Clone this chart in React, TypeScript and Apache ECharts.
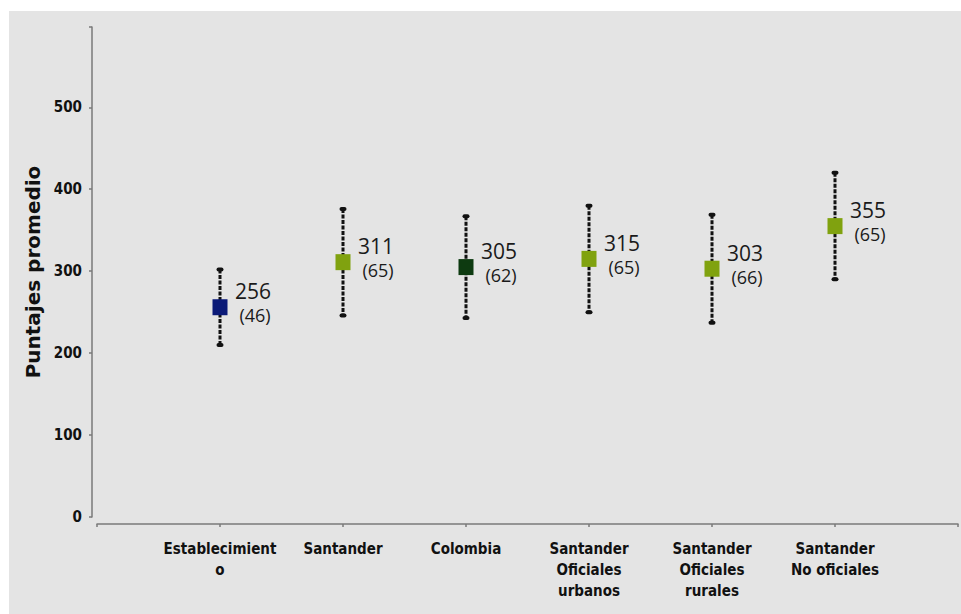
import React, { useEffect, useRef } from "react";
import * as echarts from "echarts";

const categories = [
  "Establecimient\no",
  "Santander",
  "Colombia",
  "Santander\nOficiales\nurbanos",
  "Santander\nOficiales\nrurales",
  "Santander\nNo oficiales",
];
const means = [256, 311, 305, 315, 303, 355];
const stdDevs = [46, 65, 62, 65, 66, 65];
const markerColors = ["#0b1a78", "#80a20f", "#0d3a10", "#80a20f", "#80a20f", "#80a20f"];
const yTicks = [0, 100, 200, 300, 400, 500];

export default function App() {
  const ref = useRef<HTMLDivElement>(null);

  useEffect(() => {
    if (!ref.current) return;
    const chart = echarts.init(ref.current, null, { renderer: "svg" });
    const data = categories.map((c, i) => [i + 1, means[i], means[i] - stdDevs[i], means[i] + stdDevs[i], stdDevs[i], i]);

    chart.setOption({
      animation: false,
      backgroundColor: "#ffffff",
      graphic: [
        {
          type: "rect",
          z: -10,
          silent: true,
          shape: { x: 9, y: 11, width: 960, height: 610 },
          style: { fill: "#e4e4e4" },
        },
      ],
      grid: { left: 97, right: 1, top: 27, bottom: 97, containLabel: false },
      xAxis: {
        type: "value",
        min: 0,
        max: 7,
        interval: 1,
        offset: 7,
        axisLine: { show: true, onZero: false, lineStyle: { color: "#7a7a7a", width: 1.5 } },
        axisTick: { show: true, length: 3, lineStyle: { color: "#7a7a7a", width: 1.5 } },
        splitLine: { show: false },
        axisLabel: {
          margin: 14,
          formatter: (v: number) => (v >= 1 && v <= categories.length ? categories[v - 1] : ""),
          fontFamily: "DejaVu Sans Condensed",
          fontWeight: "bold",
          fontSize: 15,
          lineHeight: 21,
          color: "#111111",
          align: "center",
        },
      },
      yAxis: {
        type: "value",
        min: 0,
        max: 598,
        interval: 100,
        offset: 5,
        name: "Puntajes promedio",
        nameLocation: "middle",
        nameGap: 47,
        nameRotate: 90,
        nameTextStyle: {
          fontFamily: "DejaVu Sans",
          fontWeight: "bold",
          fontSize: 20,
          color: "#111111",
        },
        axisLine: { show: true, onZero: false, lineStyle: { color: "#7a7a7a", width: 1.5 } },
        axisTick: { show: true, length: 3, lineStyle: { color: "#7a7a7a", width: 1.5 } },
        splitLine: { show: false },
        axisLabel: {
          margin: 10,
          formatter: (v: number) => (yTicks.includes(v) ? String(v) : ""),
          fontFamily: "DejaVu Sans Condensed",
          fontWeight: "bold",
          fontSize: 15,
          color: "#111111",
        },
      },
      series: [
        {
          type: "custom",
          clip: false,
          data,
          renderItem: (params: any, api: any) => {
            const x = api.value(0);
            const mean = api.value(1);
            const lo = api.value(2);
            const hi = api.value(3);
            const sd = api.value(4);
            const idx = api.value(5);
            const pMean = api.coord([x, mean]);
            const pLo = api.coord([x, lo]);
            const pHi = api.coord([x, hi]);
            const cx = pMean[0];
            return {
              type: "group",
              children: [
                {
                  type: "line",
                  shape: { x1: cx, y1: pHi[1], x2: cx, y2: pLo[1] },
                  style: { stroke: "#111111", lineWidth: 3, lineDash: [4, 1.5] },
                },
                {
                  type: "rect",
                  shape: { x: cx - 3.5, y: pHi[1] - 2, width: 7, height: 4, r: 2 },
                  style: { fill: "#111111" },
                },
                {
                  type: "rect",
                  shape: { x: cx - 3.5, y: pLo[1] - 2, width: 7, height: 4, r: 2 },
                  style: { fill: "#111111" },
                },
                {
                  type: "rect",
                  shape: { x: cx - 7.5, y: pMean[1] - 8, width: 15, height: 16 },
                  style: { fill: markerColors[idx] },
                },
                {
                  type: "text",
                  style: {
                    text: String(mean),
                    x: cx + 33,
                    y: pMean[1] - 16,
                    align: "center",
                    verticalAlign: "middle",
                    fontFamily: "Open Sans",
                    fontSize: 21,
                    fill: "#1a1a1a",
                  },
                },
                {
                  type: "text",
                  style: {
                    text: "(" + sd + ")",
                    x: cx + 35,
                    y: pMean[1] + 8,
                    align: "center",
                    verticalAlign: "middle",
                    fontFamily: "Open Sans",
                    fontSize: 18,
                    fill: "#1a1a1a",
                  },
                },
              ],
            };
          },
        },
      ],
    });

    return () => chart.dispose();
  }, []);

  return (
    <div
      ref={ref}
      style={{ position: "fixed", left: 0, top: 0, width: 961, height: 614 }}
    />
  );
}
